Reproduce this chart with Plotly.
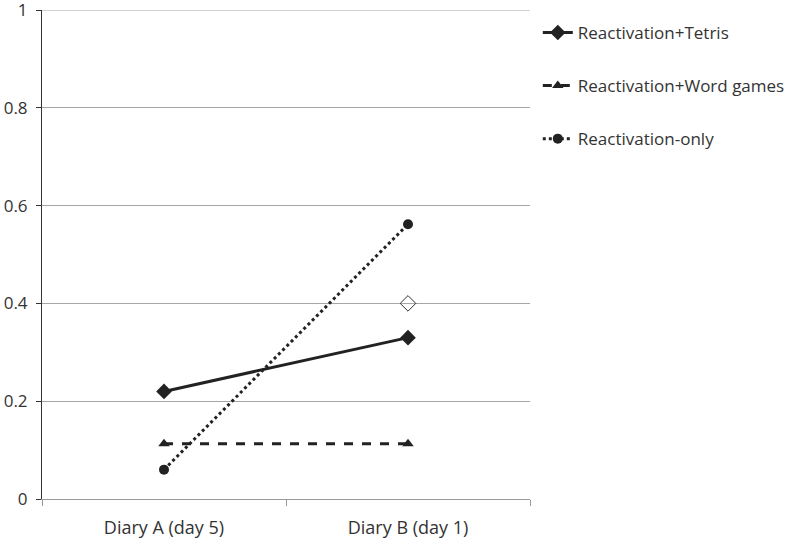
import plotly.graph_objects as go

categories = ["Diary A (day 5)", "Diary B (day 1)"]
tetris = [0.22, 0.33]
word_games = [0.113, 0.113]
reactivation_only = [0.06, 0.562]
extra_point_cat = ["Diary B (day 1)"]
extra_point_val = [0.40]
y_ticks = [0, 0.2, 0.4, 0.6, 0.8, 1]
y_tick_labels = ["0", "0.2", "0.4", "0.6", "0.8", "1"]

fig = go.Figure()
fig.add_trace(go.Scatter(x=categories, y=tetris, name="Reactivation+Tetris", mode="lines+markers",
                         line=dict(color="#222222", width=3, dash="solid"),
                         marker=dict(symbol="diamond", size=12, color="#222222"), legendgroup="a"))
fig.add_trace(go.Scatter(x=categories, y=word_games, name="Reactivation+Word games", mode="lines+markers",
                         line=dict(color="#222222", width=3, dash="dash"),
                         marker=dict(symbol="triangle-up", size=10, color="#222222"), legendgroup="b"))
fig.add_trace(go.Scatter(x=categories, y=reactivation_only, name="Reactivation-only", mode="lines+markers",
                         line=dict(color="#222222", width=3, dash="dot"),
                         marker=dict(symbol="circle", size=10, color="#222222"), legendgroup="c"))
fig.add_trace(go.Scatter(x=extra_point_cat, y=extra_point_val, mode="markers", showlegend=False,
                         marker=dict(symbol="diamond-open", size=12, color="#333333", line=dict(width=1))))

# top gridline (plotly drops the grid line at the range edge)
fig.add_shape(type="line", xref="paper", yref="y", x0=0, x1=1, y0=y_ticks[-1], y1=y_ticks[-1],
              line=dict(color="#a6a6a6", width=1), layer="below")

fig.update_layout(
    width=800, height=543,
    margin=dict(l=42, r=270, t=10, b=44),
    paper_bgcolor="white", plot_bgcolor="white",
    font=dict(family="Open Sans", size=18, color="#333333"),
    xaxis=dict(type="category", tickson="boundaries", ticks="outside", ticklen=6, tickcolor="#999999",
               showline=True, linecolor="#999999", linewidth=1, showgrid=False, range=[-0.5, 1.5],
               tickfont=dict(size=18), automargin=False, ticklabelstandoff=12),
    yaxis=dict(range=[0, 1], tickvals=y_ticks, ticktext=y_tick_labels,
               ticks="outside", ticklen=5, tickcolor="#333333", showline=True, linecolor="#333333", linewidth=1,
               showgrid=True, gridcolor="#a6a6a6", gridwidth=1, zeroline=False, tickfont=dict(size=17),
               automargin=False, ticklabeloverflow="allow", ticklabelstandoff=5),
    legend=dict(x=1.016, xanchor="left", y=0.99, yanchor="top", tracegroupgap=28, font=dict(size=17),
                bgcolor="rgba(0,0,0,0)", itemwidth=30),
)
fig.write_html("out.html", config={"displayModeBar": False},
               post_script="document.body.style.margin='0';document.body.style.overflow='hidden';")
